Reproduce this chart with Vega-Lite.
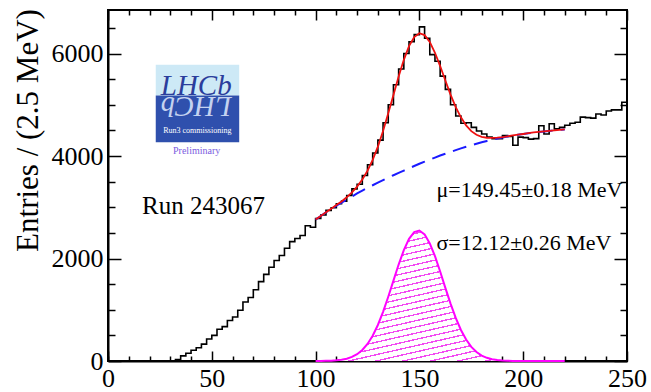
{
  "$schema": "https://vega.github.io/schema/vega-lite/v6.json",
  "width": 519,
  "height": 351,
  "autosize": {"type": "none"},
  "padding": {"left": 108, "top": 10, "right": 24, "bottom": 31},
  "background": "white",
  "config": {
    "view": {"stroke": "black", "strokeWidth": 2},
    "font": "Liberation Serif",
    "axis": {"grid": false, "labelFlush": false, "labelFont": "Liberation Serif", "titleFont": "Liberation Serif", "tickColor": "black", "domainColor": "black", "labelColor": "black", "titleColor": "black", "tickWidth": 1.5}
  },
  "datasets": {
    "hist": [
      {"m": 0, "n": 0}, {"m": 2.5, "n": 0}, {"m": 5, "n": 0}, {"m": 7.5, "n": 0}, {"m": 10, "n": 0},
      {"m": 12.5, "n": 0}, {"m": 15, "n": 0}, {"m": 17.5, "n": 0}, {"m": 20, "n": 0}, {"m": 22.5, "n": 0},
      {"m": 25, "n": 0}, {"m": 27.5, "n": 0}, {"m": 30, "n": 0}, {"m": 32.5, "n": 30}, {"m": 35, "n": 100},
      {"m": 37.5, "n": 150}, {"m": 40, "n": 210}, {"m": 42.5, "n": 260}, {"m": 45, "n": 330}, {"m": 47.5, "n": 430},
      {"m": 50, "n": 500}, {"m": 52.5, "n": 620}, {"m": 55, "n": 670}, {"m": 57.5, "n": 790}, {"m": 60, "n": 860},
      {"m": 62.5, "n": 990}, {"m": 65, "n": 1150}, {"m": 67.5, "n": 1240}, {"m": 70, "n": 1390}, {"m": 72.5, "n": 1550},
      {"m": 75, "n": 1690}, {"m": 77.5, "n": 1830}, {"m": 80, "n": 1960}, {"m": 82.5, "n": 2060}, {"m": 85, "n": 2200},
      {"m": 87.5, "n": 2330}, {"m": 90, "n": 2390}, {"m": 92.5, "n": 2450}, {"m": 95, "n": 2640}, {"m": 97.5, "n": 2610},
      {"m": 100, "n": 2780}, {"m": 102.5, "n": 2850}, {"m": 105, "n": 2940}, {"m": 107.5, "n": 2990}, {"m": 110, "n": 3070},
      {"m": 112.5, "n": 3120}, {"m": 115, "n": 3230}, {"m": 117.5, "n": 3360}, {"m": 120, "n": 3450}, {"m": 122.5, "n": 3620},
      {"m": 125, "n": 3830}, {"m": 127.5, "n": 4060}, {"m": 130, "n": 4310}, {"m": 132.5, "n": 4650}, {"m": 135, "n": 5000},
      {"m": 137.5, "n": 5390}, {"m": 140, "n": 5700}, {"m": 142.5, "n": 6000}, {"m": 145, "n": 6230}, {"m": 147.5, "n": 6370},
      {"m": 150, "n": 6520}, {"m": 152.5, "n": 6300}, {"m": 155, "n": 5980}, {"m": 157.5, "n": 5850}, {"m": 160, "n": 5560},
      {"m": 162.5, "n": 5300}, {"m": 165, "n": 5000}, {"m": 167.5, "n": 4780}, {"m": 170, "n": 4640}, {"m": 172.5, "n": 4650},
      {"m": 175, "n": 4560}, {"m": 177.5, "n": 4490}, {"m": 180, "n": 4430}, {"m": 182.5, "n": 4370}, {"m": 185, "n": 4340},
      {"m": 187.5, "n": 4340}, {"m": 190, "n": 4400}, {"m": 192.5, "n": 4380}, {"m": 195, "n": 4210}, {"m": 197.5, "n": 4370},
      {"m": 200, "n": 4360}, {"m": 202.5, "n": 4330}, {"m": 205, "n": 4340}, {"m": 207.5, "n": 4590}, {"m": 210, "n": 4430},
      {"m": 212.5, "n": 4630}, {"m": 215, "n": 4530}, {"m": 217.5, "n": 4560}, {"m": 220, "n": 4600}, {"m": 222.5, "n": 4640},
      {"m": 225, "n": 4660}, {"m": 227.5, "n": 4760}, {"m": 230, "n": 4750}, {"m": 232.5, "n": 4740}, {"m": 235, "n": 4820},
      {"m": 237.5, "n": 4800}, {"m": 240, "n": 4880}, {"m": 242.5, "n": 4900}, {"m": 245, "n": 4900}, {"m": 247.5, "n": 5050},
      {"m": 250, "n": 5050}
    ],
    "fit": [
      {"m": 100, "bkg": 2760, "sig": 0.6, "tot": 2761},
      {"m": 102.5, "bkg": 2830, "sig": 1.4, "tot": 2831},
      {"m": 105, "bkg": 2900, "sig": 3, "tot": 2903},
      {"m": 107.5, "bkg": 2965, "sig": 6, "tot": 2971},
      {"m": 110, "bkg": 3030, "sig": 13, "tot": 3043},
      {"m": 112.5, "bkg": 3090, "sig": 24, "tot": 3114},
      {"m": 115, "bkg": 3150, "sig": 45, "tot": 3195},
      {"m": 117.5, "bkg": 3210, "sig": 79, "tot": 3289},
      {"m": 120, "bkg": 3270, "sig": 133, "tot": 3403},
      {"m": 122.5, "bkg": 3325, "sig": 215, "tot": 3540},
      {"m": 125, "bkg": 3380, "sig": 333, "tot": 3713},
      {"m": 127.5, "bkg": 3430, "sig": 494, "tot": 3924},
      {"m": 130, "bkg": 3480, "sig": 703, "tot": 4183},
      {"m": 132.5, "bkg": 3530, "sig": 959, "tot": 4489},
      {"m": 135, "bkg": 3580, "sig": 1253, "tot": 4833},
      {"m": 137.5, "bkg": 3625, "sig": 1568, "tot": 5193},
      {"m": 140, "bkg": 3670, "sig": 1882, "tot": 5552},
      {"m": 142.5, "bkg": 3715, "sig": 2163, "tot": 5878},
      {"m": 145, "bkg": 3760, "sig": 2384, "tot": 6144},
      {"m": 147.5, "bkg": 3805, "sig": 2517, "tot": 6322},
      {"m": 150, "bkg": 3850, "sig": 2547, "tot": 6397},
      {"m": 152.5, "bkg": 3890, "sig": 2470, "tot": 6360},
      {"m": 155, "bkg": 3930, "sig": 2296, "tot": 6226},
      {"m": 157.5, "bkg": 3970, "sig": 2045, "tot": 6015},
      {"m": 160, "bkg": 4010, "sig": 1746, "tot": 5756},
      {"m": 162.5, "bkg": 4045, "sig": 1428, "tot": 5473},
      {"m": 165, "bkg": 4080, "sig": 1120, "tot": 5200},
      {"m": 167.5, "bkg": 4115, "sig": 841, "tot": 4956},
      {"m": 170, "bkg": 4150, "sig": 606, "tot": 4756},
      {"m": 172.5, "bkg": 4180, "sig": 418, "tot": 4598},
      {"m": 175, "bkg": 4210, "sig": 276, "tot": 4486},
      {"m": 177.5, "bkg": 4240, "sig": 175, "tot": 4415},
      {"m": 180, "bkg": 4270, "sig": 106, "tot": 4376},
      {"m": 182.5, "bkg": 4295, "sig": 62, "tot": 4357},
      {"m": 185, "bkg": 4320, "sig": 35, "tot": 4355},
      {"m": 187.5, "bkg": 4340, "sig": 18, "tot": 4358},
      {"m": 190, "bkg": 4360, "sig": 9, "tot": 4369},
      {"m": 192.5, "bkg": 4380, "sig": 5, "tot": 4385},
      {"m": 195, "bkg": 4400, "sig": 2, "tot": 4402},
      {"m": 197.5, "bkg": 4415, "sig": 1, "tot": 4416},
      {"m": 200, "bkg": 4430, "sig": 0.4, "tot": 4430},
      {"m": 202.5, "bkg": 4445, "sig": 0.2, "tot": 4445},
      {"m": 205, "bkg": 4460, "sig": 0, "tot": 4460},
      {"m": 207.5, "bkg": 4470, "sig": 0, "tot": 4470},
      {"m": 210, "bkg": 4480, "sig": 0, "tot": 4480},
      {"m": 212.5, "bkg": 4490, "sig": 0, "tot": 4490},
      {"m": 215, "bkg": 4500, "sig": 0, "tot": 4500},
      {"m": 217.5, "bkg": 4510, "sig": 0, "tot": 4510},
      {"m": 220, "bkg": 4520, "sig": 0, "tot": 4520}
    ]
  },
  "resolve": {"scale": {"x": "shared", "y": "shared"}, "axis": {"x": "independent", "y": "independent"}},
  "layer": [
    {
      "data": {"name": "fit"},
      "mark": {"type": "area", "clip": true, "fillOpacity": 1,
        "fill": {"gradient": "linear", "x1": 0, "y1": 0, "x2": 0.5246, "y2": 1.2067, "stops": [
          {"offset": 0, "color": "#f24af2"}, {"offset": 0.0073, "color": "#f24af2"}, {"offset": 0.0073, "color": "#ffffff"}, {"offset": 0.0333, "color": "#ffffff"},
          {"offset": 0.0333, "color": "#f24af2"}, {"offset": 0.0407, "color": "#f24af2"}, {"offset": 0.0407, "color": "#ffffff"}, {"offset": 0.0667, "color": "#ffffff"},
          {"offset": 0.0667, "color": "#f24af2"}, {"offset": 0.0740, "color": "#f24af2"}, {"offset": 0.0740, "color": "#ffffff"}, {"offset": 0.1, "color": "#ffffff"},
          {"offset": 0.1, "color": "#f24af2"}, {"offset": 0.1073, "color": "#f24af2"}, {"offset": 0.1073, "color": "#ffffff"}, {"offset": 0.1333, "color": "#ffffff"},
          {"offset": 0.1333, "color": "#f24af2"}, {"offset": 0.1407, "color": "#f24af2"}, {"offset": 0.1407, "color": "#ffffff"}, {"offset": 0.1667, "color": "#ffffff"},
          {"offset": 0.1667, "color": "#f24af2"}, {"offset": 0.1740, "color": "#f24af2"}, {"offset": 0.1740, "color": "#ffffff"}, {"offset": 0.2, "color": "#ffffff"},
          {"offset": 0.2, "color": "#f24af2"}, {"offset": 0.2073, "color": "#f24af2"}, {"offset": 0.2073, "color": "#ffffff"}, {"offset": 0.2333, "color": "#ffffff"},
          {"offset": 0.2333, "color": "#f24af2"}, {"offset": 0.2407, "color": "#f24af2"}, {"offset": 0.2407, "color": "#ffffff"}, {"offset": 0.2667, "color": "#ffffff"},
          {"offset": 0.2667, "color": "#f24af2"}, {"offset": 0.2740, "color": "#f24af2"}, {"offset": 0.2740, "color": "#ffffff"}, {"offset": 0.3, "color": "#ffffff"},
          {"offset": 0.3, "color": "#f24af2"}, {"offset": 0.3073, "color": "#f24af2"}, {"offset": 0.3073, "color": "#ffffff"}, {"offset": 0.3333, "color": "#ffffff"},
          {"offset": 0.3333, "color": "#f24af2"}, {"offset": 0.3407, "color": "#f24af2"}, {"offset": 0.3407, "color": "#ffffff"}, {"offset": 0.3667, "color": "#ffffff"},
          {"offset": 0.3667, "color": "#f24af2"}, {"offset": 0.3740, "color": "#f24af2"}, {"offset": 0.3740, "color": "#ffffff"}, {"offset": 0.4, "color": "#ffffff"},
          {"offset": 0.4, "color": "#f24af2"}, {"offset": 0.4073, "color": "#f24af2"}, {"offset": 0.4073, "color": "#ffffff"}, {"offset": 0.4333, "color": "#ffffff"},
          {"offset": 0.4333, "color": "#f24af2"}, {"offset": 0.4407, "color": "#f24af2"}, {"offset": 0.4407, "color": "#ffffff"}, {"offset": 0.4667, "color": "#ffffff"},
          {"offset": 0.4667, "color": "#f24af2"}, {"offset": 0.4740, "color": "#f24af2"}, {"offset": 0.4740, "color": "#ffffff"}, {"offset": 0.5, "color": "#ffffff"},
          {"offset": 0.5, "color": "#f24af2"}, {"offset": 0.5073, "color": "#f24af2"}, {"offset": 0.5073, "color": "#ffffff"}, {"offset": 0.5333, "color": "#ffffff"},
          {"offset": 0.5333, "color": "#f24af2"}, {"offset": 0.5407, "color": "#f24af2"}, {"offset": 0.5407, "color": "#ffffff"}, {"offset": 0.5667, "color": "#ffffff"},
          {"offset": 0.5667, "color": "#f24af2"}, {"offset": 0.5740, "color": "#f24af2"}, {"offset": 0.5740, "color": "#ffffff"}, {"offset": 0.6, "color": "#ffffff"},
          {"offset": 0.6, "color": "#f24af2"}, {"offset": 0.6073, "color": "#f24af2"}, {"offset": 0.6073, "color": "#ffffff"}, {"offset": 0.6333, "color": "#ffffff"},
          {"offset": 0.6333, "color": "#f24af2"}, {"offset": 0.6407, "color": "#f24af2"}, {"offset": 0.6407, "color": "#ffffff"}, {"offset": 0.6667, "color": "#ffffff"},
          {"offset": 0.6667, "color": "#f24af2"}, {"offset": 0.6740, "color": "#f24af2"}, {"offset": 0.6740, "color": "#ffffff"}, {"offset": 0.7, "color": "#ffffff"},
          {"offset": 0.7, "color": "#f24af2"}, {"offset": 0.7073, "color": "#f24af2"}, {"offset": 0.7073, "color": "#ffffff"}, {"offset": 0.7333, "color": "#ffffff"},
          {"offset": 0.7333, "color": "#f24af2"}, {"offset": 0.7407, "color": "#f24af2"}, {"offset": 0.7407, "color": "#ffffff"}, {"offset": 0.7667, "color": "#ffffff"},
          {"offset": 0.7667, "color": "#f24af2"}, {"offset": 0.7740, "color": "#f24af2"}, {"offset": 0.7740, "color": "#ffffff"}, {"offset": 0.8, "color": "#ffffff"},
          {"offset": 0.8, "color": "#f24af2"}, {"offset": 0.8073, "color": "#f24af2"}, {"offset": 0.8073, "color": "#ffffff"}, {"offset": 0.8333, "color": "#ffffff"},
          {"offset": 0.8333, "color": "#f24af2"}, {"offset": 0.8407, "color": "#f24af2"}, {"offset": 0.8407, "color": "#ffffff"}, {"offset": 0.8667, "color": "#ffffff"},
          {"offset": 0.8667, "color": "#f24af2"}, {"offset": 0.8740, "color": "#f24af2"}, {"offset": 0.8740, "color": "#ffffff"}, {"offset": 0.9, "color": "#ffffff"},
          {"offset": 0.9, "color": "#f24af2"}, {"offset": 0.9073, "color": "#f24af2"}, {"offset": 0.9073, "color": "#ffffff"}, {"offset": 0.9333, "color": "#ffffff"},
          {"offset": 0.9333, "color": "#f24af2"}, {"offset": 0.9407, "color": "#f24af2"}, {"offset": 0.9407, "color": "#ffffff"}, {"offset": 0.9667, "color": "#ffffff"},
          {"offset": 0.9667, "color": "#f24af2"}, {"offset": 0.9740, "color": "#f24af2"}, {"offset": 0.9740, "color": "#ffffff"}, {"offset": 1, "color": "#ffffff"}
        ]}},
      "encoding": {
        "x": {"field": "m", "type": "quantitative", "scale": {"domain": [0, 250], "nice": false, "zero": false},
          "axis": {"orient": "bottom", "values": [0,10,20,30,40,60,70,80,90,110,120,130,140,160,170,180,190,210,220,230,240], "labels": false, "domain": false, "tickSize": -5, "title": null}},
        "y": {"field": "sig", "type": "quantitative", "scale": {"domain": [0, 6850], "nice": false, "zero": true},
          "axis": {"orient": "left", "values": [500,1000,1500,2500,3000,3500,4500,5000,5500,6500], "labels": false, "domain": false, "tickSize": -7, "title": null}}
      }
    },
    {
      "data": {"name": "fit"},
      "mark": {"type": "line", "color": "#ff00ff", "strokeWidth": 2},
      "encoding": {
        "x": {"field": "m", "type": "quantitative",
          "axis": {"orient": "top", "values": [0,50,100,150,200,250], "labels": false, "domain": false, "tickSize": -10, "title": null}},
        "y": {"field": "sig", "type": "quantitative",
          "axis": {"orient": "right", "values": [0,2000,4000,6000], "labels": false, "domain": false, "tickSize": -13, "title": null}}
      }
    },
    {
      "data": {"name": "hist"},
      "mark": {"type": "line", "interpolate": "step-after", "color": "black", "strokeWidth": 1.6},
      "encoding": {
        "x": {"field": "m", "type": "quantitative",
          "axis": {"orient": "bottom", "values": [0,50,100,150,200,250], "format": "d", "domain": true, "domainWidth": 2, "tickSize": -10, "labelPadding": 14, "labelFontSize": 26, "title": null}},
        "y": {"field": "n", "type": "quantitative",
          "axis": {"orient": "left", "values": [0,2000,4000,6000], "format": "d", "domain": true, "domainWidth": 2, "tickSize": -13, "labelPadding": 18, "labelFontSize": 26,
            "title": "Entries / (2.5 MeV)", "titleFontSize": 31, "titleFontWeight": "normal", "titleX": -64, "titleY": 120, "titleAngle": -90, "titleBaseline": "bottom", "titleAlign": "center"}}
      }
    },
    {
      "data": {"name": "fit"},
      "mark": {"type": "line", "color": "#1a1aff", "strokeWidth": 2, "strokeDash": [14, 8]},
      "encoding": {
        "x": {"field": "m", "type": "quantitative",
          "axis": {"orient": "top", "values": [10,20,30,40,60,70,80,90,110,120,130,140,160,170,180,190,210,220,230,240], "labels": false, "domain": false, "tickSize": -5, "title": null}},
        "y": {"field": "bkg", "type": "quantitative",
          "axis": {"orient": "right", "values": [500,1000,1500,2500,3000,3500,4500,5000,5500,6500], "labels": false, "domain": false, "tickSize": -7, "title": null}}
      }
    },
    {
      "data": {"name": "fit"},
      "mark": {"type": "line", "color": "#ee1111", "strokeWidth": 1.8},
      "encoding": {
        "x": {"field": "m", "type": "quantitative", "axis": null},
        "y": {"field": "tot", "type": "quantitative", "axis": null}
      }
    },
    {
      "data": {"values": [{}]},
      "mark": {"type": "rect", "fill": "#cde9f6"},
      "encoding": {
        "x": {"datum": 23.0, "type": "quantitative", "axis": null}, "x2": {"datum": 63.2},
        "y": {"datum": 5780, "type": "quantitative", "axis": null}, "y2": {"datum": 5181}
      }
    },
    {
      "data": {"values": [{}]},
      "mark": {"type": "rect", "fill": "#2f50ad"},
      "encoding": {
        "x": {"datum": 23.0, "type": "quantitative", "axis": null}, "x2": {"datum": 63.2},
        "y": {"datum": 5181, "type": "quantitative", "axis": null}, "y2": {"datum": 4271}
      }
    },
    {
      "data": {"values": [{}]},
      "mark": {"type": "text", "text": "LHCb", "font": "Liberation Serif", "fontStyle": "italic", "fontSize": 29, "color": "#2a3d9c", "align": "center", "baseline": "alphabetic"},
      "encoding": {
        "x": {"datum": 42.5, "type": "quantitative", "axis": null},
        "y": {"datum": 5200, "type": "quantitative", "axis": null}
      }
    },
    {
      "data": {"values": [{}]},
      "mark": {"type": "text", "text": "LHCb", "font": "Liberation Serif", "fontStyle": "italic", "fontSize": 29, "color": "#c4d2f0", "align": "center", "baseline": "alphabetic", "angle": 180},
      "encoding": {
        "x": {"datum": 42.5, "type": "quantitative", "axis": null},
        "y": {"datum": 5160, "type": "quantitative", "axis": null}
      }
    },
    {
      "data": {"values": [{}]},
      "mark": {"type": "text", "text": "Run3 commissioning", "font": "Liberation Serif", "fontSize": 8, "color": "white", "align": "center", "baseline": "middle"},
      "encoding": {
        "x": {"datum": 43, "type": "quantitative", "axis": null},
        "y": {"datum": 4480, "type": "quantitative", "axis": null}
      }
    },
    {
      "data": {"values": [{}]},
      "mark": {"type": "text", "text": "Preliminary", "font": "Liberation Serif", "fontSize": 10, "color": "#7a5ce0", "align": "center", "baseline": "alphabetic"},
      "encoding": {
        "x": {"datum": 42.7, "type": "quantitative", "axis": null},
        "y": {"datum": 4040, "type": "quantitative", "axis": null}
      }
    },
    {
      "data": {"values": [{}]},
      "mark": {"type": "text", "text": "Run 243067", "font": "Liberation Serif", "fontSize": 25, "color": "black", "align": "left", "baseline": "alphabetic"},
      "encoding": {
        "x": {"datum": 16.4, "type": "quantitative", "axis": null},
        "y": {"datum": 2860, "type": "quantitative", "axis": null}
      }
    },
    {
      "data": {"values": [{}]},
      "mark": {"type": "text", "text": "μ=149.45±0.18 MeV", "font": "Liberation Serif", "fontSize": 22, "color": "black", "align": "left", "baseline": "alphabetic"},
      "encoding": {
        "x": {"datum": 158.2, "type": "quantitative", "axis": null},
        "y": {"datum": 3200, "type": "quantitative", "axis": null}
      }
    },
    {
      "data": {"values": [{}]},
      "mark": {"type": "text", "text": "σ=12.12±0.26 MeV", "font": "Liberation Serif", "fontSize": 22, "color": "black", "align": "left", "baseline": "alphabetic"},
      "encoding": {
        "x": {"datum": 158.2, "type": "quantitative", "axis": null},
        "y": {"datum": 2160, "type": "quantitative", "axis": null}
      }
    }
  ]
}
